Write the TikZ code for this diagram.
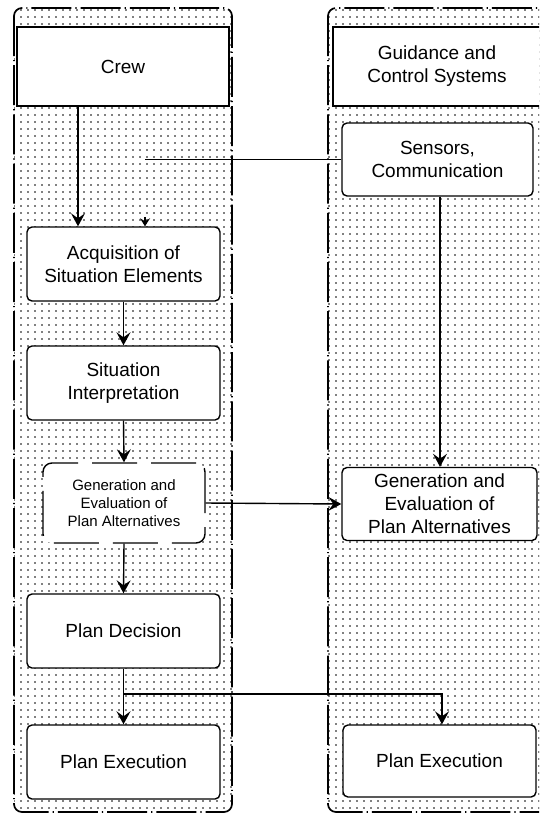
\documentclass[tikz,border=0pt]{standalone}
\usepackage{fontspec}
\setmainfont{Liberation Sans}
\usetikzlibrary{patterns.meta,arrows.meta}
\begin{document}
\begin{tikzpicture}[x=1pt,y=-1pt,
 panel/.style={draw=black, line width=1.7pt, dash pattern=on 40pt off 4pt on 1.2pt off 4pt, rounded corners=8pt, pattern={Dots[distance=7pt,radius=0.8pt]}},
 hbox/.style={draw, line width=1.4pt, fill=white, inner sep=0pt, align=center, font=\fontsize{19}{23}\selectfont},
 rbox/.style={hbox, rounded corners=5pt},
 dbox/.style={hbox, rounded corners=9pt, dash pattern=on 45pt off 14pt, font=\fontsize{15}{18}\selectfont},
 arr/.style={-{Stealth[length=13pt,width=14pt,inset=5pt]}, line width=1.4pt},
 sarr/.style={-{Stealth[length=8pt,width=10pt,inset=3pt]}, line width=1.3pt},
 conn/.style={line width=1.4pt}
]
\useasboundingbox (0,0) rectangle (539,815);
\clip (0,0) rectangle (539,815);
\fill[white] (0,0) rectangle (539,815);
\path[panel] (14,8) rectangle (232,812);
\path[panel] (328,8) rectangle (570,812);

\node[hbox, minimum width=212pt, minimum height=79pt] (crew) at (123,66.5) {Crew};
\node[hbox, minimum width=208pt, minimum height=79pt] (gcs) at (437,66.5) {Guidance and\\Control Systems};
\node[rbox, minimum width=191pt, minimum height=73pt] (sens) at (437.5,159.5) {Sensors,\\Communication};
\node[rbox, minimum width=195pt, minimum height=73pt] (rgen) at (439.5,504) {Generation and\\Evaluation of\\Plan Alternatives};
\node[rbox, minimum width=193pt, minimum height=72pt] (rpe) at (439.5,761) {Plan Execution};

\node[rbox, minimum width=193pt, minimum height=74pt] (acq) at (123.5,264) {Acquisition of\\Situation Elements};
\node[rbox, minimum width=193pt, minimum height=74pt] (si) at (123.5,383) {Situation\\Interpretation};
\node[dbox, minimum width=162pt, minimum height=80pt] (genl) at (124,503) {Generation and\\Evaluation of\\Plan Alternatives};
\node[rbox, minimum width=193pt, minimum height=74pt] (pd) at (123.5,631) {Plan Decision};
\node[rbox, minimum width=193pt, minimum height=74pt] (pe) at (123.5,762) {Plan Execution};

\coordinate (sx) at (145,159.5);
\coordinate (br) at (123.5,694);

\draw[arr] ([xshift=-45pt]crew.south) -- ([xshift=-45.5pt]acq.north);
\draw[conn] (sens.west) -- (sx);
\draw[sarr] ([xshift=21.5pt,yshift=9pt]acq.north) -- ([xshift=21.5pt]acq.north);
\draw[arr] (acq.south) -- (si.north);
\draw[arr] (si.south) -- (genl.north);
\draw[arr] (genl.south) -- (pd.north);
\draw[arr] (pd.south) -- (pe.north);
\draw[arr] (br) -| ([xshift=2.5pt]rpe.north);
\draw[arr] ([xshift=2.5pt]sens.south) -- ([xshift=0.5pt]rgen.north);
\draw[arr] (genl.east) -- (rgen.west);
\end{tikzpicture}
\end{document}
